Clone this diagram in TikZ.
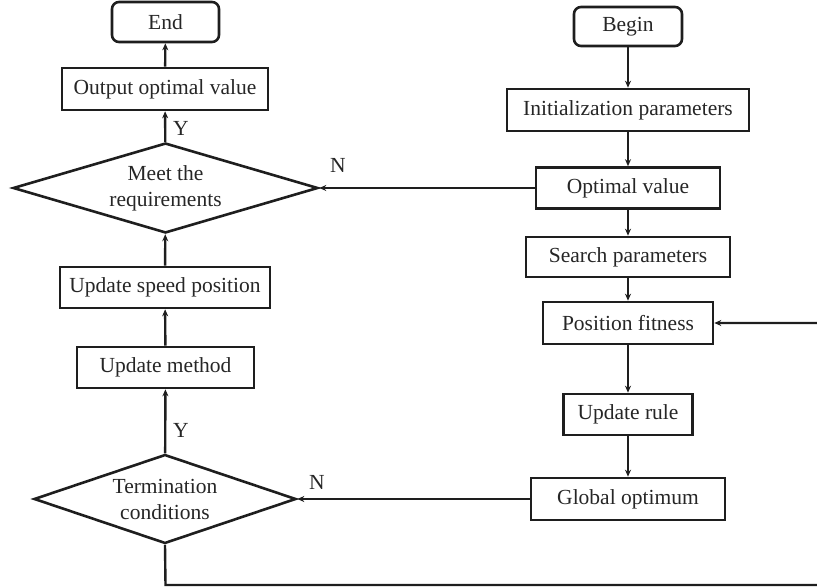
\documentclass[tikz,border=0pt]{standalone}
\usepackage{fontspec}
\setmainfont{Liberation Serif}
\usetikzlibrary{shapes.geometric,arrows.meta}
\definecolor{ink}{HTML}{1E1E1E}
\definecolor{txt}{HTML}{262626}
\begin{document}
\begin{tikzpicture}[x=1pt,y=-1pt,
  every node/.style={font=\fontsize{21.5}{26}\selectfont, text=txt},
  box/.style={draw=ink, line width=2.6pt, rectangle, inner sep=0pt},
  term/.style={box, rounded corners=7pt},
  decision/.style={draw=ink, line width=2.6pt, diamond, inner sep=0pt, align=center},
  flow/.style={draw=ink, line width=2.4pt, -{Stealth[length=7pt,width=6pt]}},
  lab/.style={inner sep=0pt}
]
\useasboundingbox (0,0) rectangle (817,588);
% left column
\node[term, minimum width=107pt, minimum height=40pt] (end) at (165.5,22) {End};
\node[box, minimum width=206pt, minimum height=42pt] (out) at (165,89) {Output optimal value};
\node[decision, aspect=3.39, minimum width=305pt, minimum height=90pt] (meet) at (165.5,188) {Meet the\\requirements};
\node[box, minimum width=210pt, minimum height=41pt] (speed) at (165,287.5) {Update speed position};
\node[box, minimum width=177pt, minimum height=41pt] (method) at (165.5,367.5) {Update method};
\node[decision, aspect=2.94, minimum width=262pt, minimum height=89pt] (cond) at (165,499) {Termination\\conditions};
% right column
\node[term, minimum width=108pt, minimum height=39pt] (begin) at (628,26.5) {Begin};
\node[box, minimum width=242pt, minimum height=42pt] (init) at (628,110) {Initialization parameters};
\node[box, minimum width=184pt, minimum height=41pt] (opt) at (628,188) {Optimal value};
\node[box, minimum width=204pt, minimum height=40pt] (search) at (628,257) {Search parameters};
\node[box, minimum width=170pt, minimum height=42pt] (pos) at (628,323) {Position fitness};
\node[box, minimum width=129pt, minimum height=41pt] (rule) at (628,414.5) {Update rule};
\node[box, minimum width=194pt, minimum height=42pt] (glob) at (628,499) {Global optimum};
% loop corners (right side lies just beyond the picture's edge)
\coordinate (c1) at (165.5,585);
\coordinate (c2) at (820,585);
\coordinate (c3) at (820,323);
% connectors
\draw[flow] (begin) -- (init);
\draw[flow] (init) -- (opt);
\draw[flow] (opt) -- (search);
\draw[flow] (search) -- (pos);
\draw[flow] (pos) -- (rule);
\draw[flow] (rule) -- (glob);
\draw[flow] (glob) -- (cond);
\draw[flow] (opt) -- (meet);
\draw[flow] (cond) -- (method);
\draw[flow] (method) -- (speed);
\draw[flow] (speed) -- (meet);
\draw[flow] (meet) -- (out);
\draw[flow] (out) -- (end);
\draw[flow] (cond.south) -- (c1) -- (c2) -- (c3) -- (pos.east);
% labels
\node[lab] (ly1) at (181,128) {Y};
\node[lab] (ly2) at (181,430) {Y};
\node[lab] (ln1) at (338,165) {N};
\node[lab] (ln2) at (317,482) {N};
\end{tikzpicture}
\end{document}
